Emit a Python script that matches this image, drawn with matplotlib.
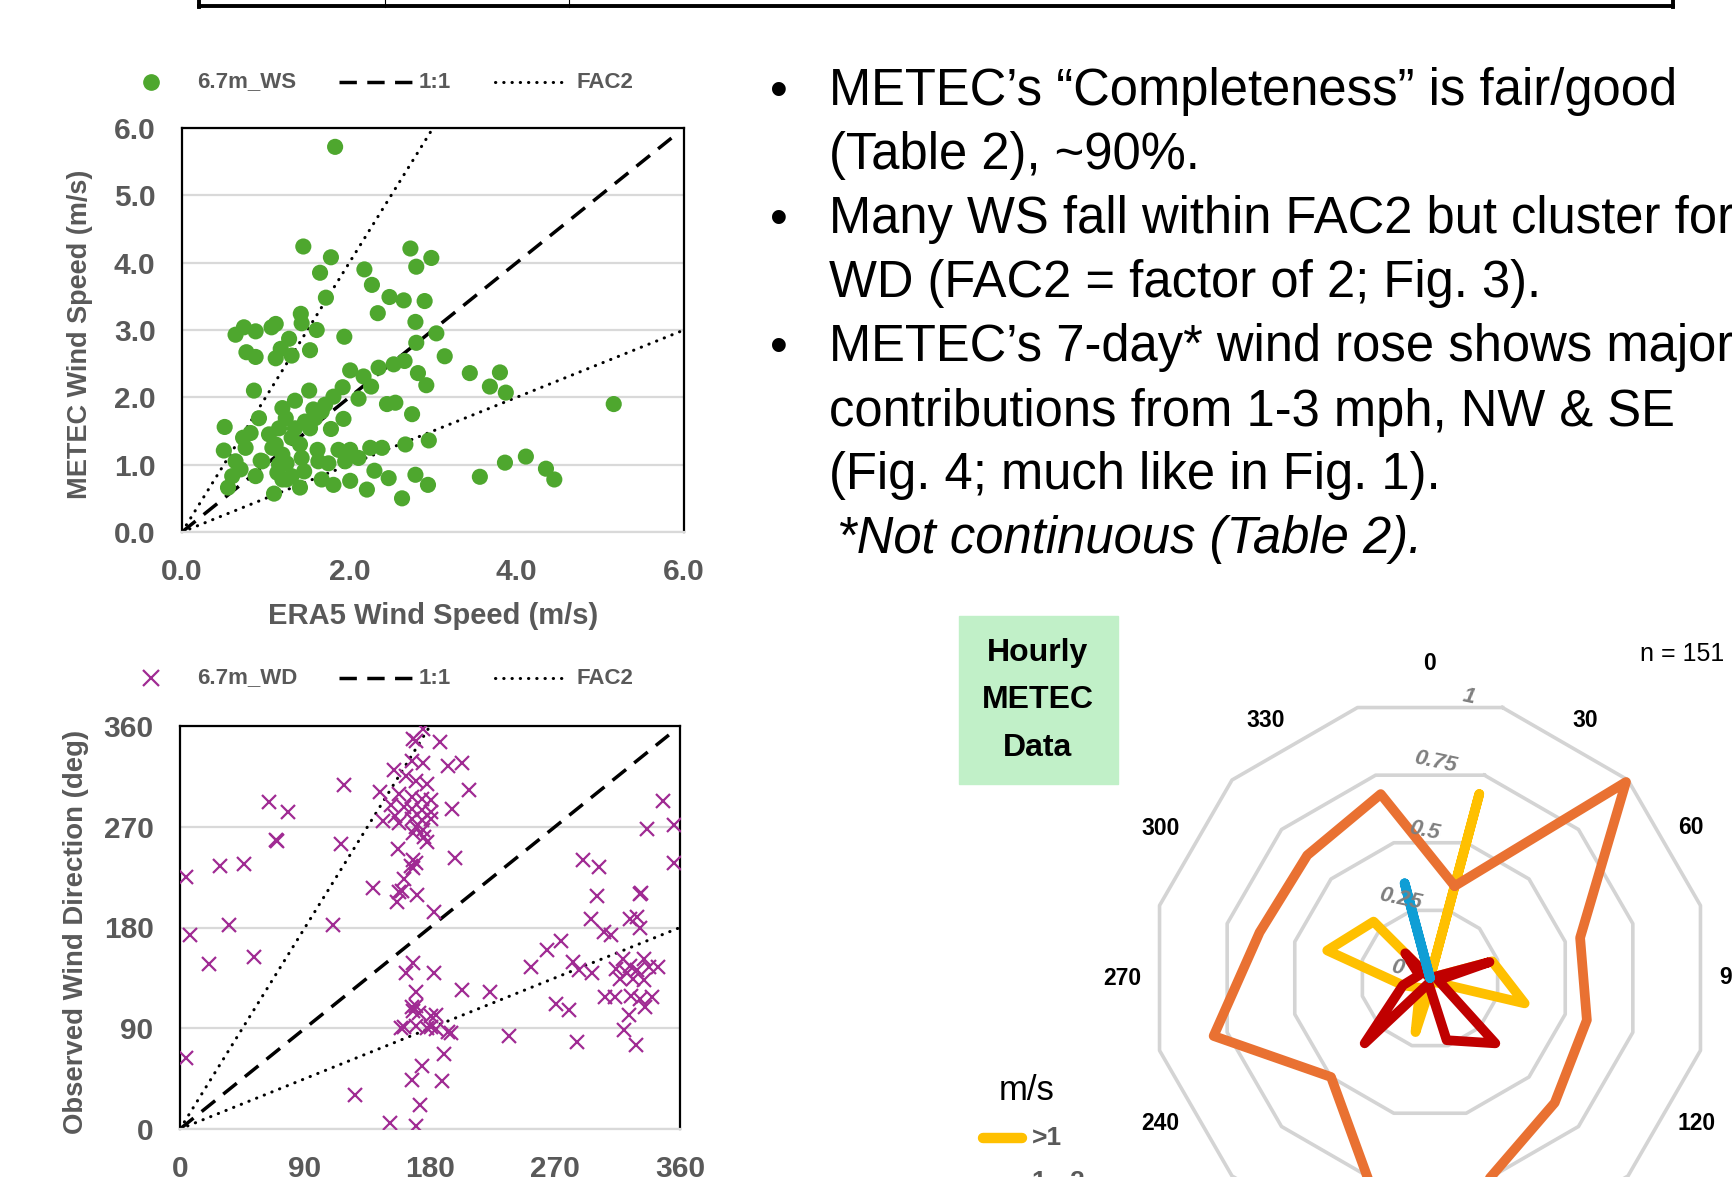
import matplotlib
matplotlib.use('Agg')
import matplotlib.pyplot as plt
import numpy as np
from matplotlib.lines import Line2D
from matplotlib.patches import Rectangle

plt.rcParams['font.family'] = ['Liberation Sans', 'DejaVu Sans']

W, H = 1733, 1177

# ---- wind speed scatter (ERA5 vs METEC, m/s) ----
era5_ws = [1.83, 1.45, 1.78, 1.65, 1.72, 1.42, 1.43, 1.61, 1.28, 1.53, 1.18, 1.12, 1.31,
           0.64, 0.74, 0.88, 1.07, 1.12, 0.77, 0.88, 1.94, 0.86, 1.52, 0.51, 0.50, 0.73,
           0.92, 0.76, 0.64, 0.60, 0.55, 0.88, 0.94, 1.10, 1.08, 1.16, 1.20, 1.35, 1.24,
           1.31, 1.41, 1.16, 1.25, 1.25, 1.41, 1.46, 1.53, 1.57, 1.71, 1.81, 1.78, 1.93,
           1.92, 1.62, 1.63, 1.67, 1.81, 2.01, 1.87, 2.01, 2.11, 2.25, 2.39, 2.30, 2.21,
           2.47, 2.01, 2.17, 2.26, 2.35, 2.53, 2.66, 2.11, 2.45, 2.55, 2.75, 2.67, 2.79,
           2.94, 2.63, 2.95, 2.82, 2.92, 2.80, 2.79, 2.90, 2.18, 2.27, 2.34, 2.48, 2.65,
           2.73, 2.80, 2.98, 1.04, 1.12, 1.20, 1.35, 1.47, 1.59, 1.67, 0.70, 0.82, 0.96,
           1.75, 1.95, 1.43, 1.20, 1.31, 1.14, 3.04, 3.14, 3.44, 3.80, 3.68, 3.87, 5.16,
           3.56, 3.86, 4.11, 4.35, 4.45]
metec_ws = [5.72, 4.24, 4.08, 3.85, 3.48, 3.24, 3.10, 3.00, 2.87, 2.70, 2.72, 2.58, 2.62,
            2.93, 3.04, 2.98, 3.04, 3.09, 2.67, 2.60, 2.90, 2.10, 2.10, 1.56, 1.21, 1.40,
            1.69, 1.25, 1.05, 0.83, 0.66, 0.83, 1.06, 0.57, 1.25, 1.54, 1.84, 1.95, 1.69,
            1.40, 1.30, 1.00, 1.02, 0.78, 0.66, 0.90, 1.54, 1.82, 1.89, 2.01, 1.53, 1.68,
            2.15, 1.22, 1.05, 0.78, 0.70, 0.76, 1.22, 1.22, 1.10, 1.25, 1.25, 0.91, 0.63,
            0.80, 2.40, 2.31, 2.16, 2.44, 2.49, 2.54, 1.98, 1.90, 1.92, 1.75, 1.30, 0.85,
            0.70, 0.50, 1.36, 2.36, 2.18, 2.81, 3.12, 3.43, 3.90, 3.67, 3.25, 3.49, 3.44,
            4.21, 3.94, 4.07, 1.45, 1.30, 1.15, 1.54, 1.64, 1.69, 1.79, 0.93, 1.47, 1.05,
            1.02, 1.05, 1.10, 0.78, 0.83, 0.88, 2.95, 2.61, 2.36, 2.37, 2.16, 2.07, 1.90,
            0.82, 1.03, 1.12, 0.94, 0.78]

# ---- wind direction scatter (ERA5 vs observed, deg) ----
era5_wd = [4, 7, 4, 21, 29, 46, 35, 53, 64, 78, 69, 70, 118, 116, 110, 139, 126,
           144, 146, 157, 154, 168, 175, 170, 187, 167, 175, 163, 170, 178, 158, 167,
           174, 181, 152, 161, 167, 174, 181, 155, 167, 174, 181, 158, 170, 175, 168,
           176, 178, 196, 193, 203, 208, 198, 170, 168, 161, 158, 156, 171, 183, 160,
           166, 168,
           151, 170, 173, 167, 174, 161, 168, 163, 168, 170, 183, 170, 167, 172, 181,
           159, 170, 178, 184, 195, 190, 189, 203, 223, 237, 184, 181, 193,
           253, 264, 274, 271, 280, 286, 283, 287, 297, 290, 302, 300, 296, 305, 310,
           306, 313, 331, 332, 324, 329, 331, 319, 324, 329, 334, 338, 344, 314, 322,
           326, 334, 317, 325, 331, 340, 335, 323, 320, 328, 348, 336, 356, 356]
obs_wd = [225, 173, 63, 147, 235, 237, 182, 154, 292, 283, 258, 257, 307, 255, 182, 215, 30,
          301, 275, 250, 321, 348, 357, 347, 346, 329, 327, 315, 311, 308, 299, 297,
          295, 294, 289, 288, 286, 285, 283, 280, 277, 276, 277, 273, 270, 267, 264,
          261, 256, 286, 324, 327, 303, 242, 238, 233, 223, 212, 203, 209, 194, 213,
          235, 240,
          5, 3, 21, 44, 56, 91, 105, 139, 148, 122, 139, 110, 109, 104, 101,
          90, 92, 90, 89, 86, 67, 43, 124, 122, 83, 102, 91, 87,
          145, 160, 168, 112, 106, 78, 149, 142, 139, 240, 234, 208, 188, 176, 173,
          118, 118, 210, 211, 188, 189, 180, 152, 146, 142, 152, 145, 145, 143, 139,
          134, 133, 134, 119, 116, 118, 109, 102, 88, 75, 293, 268, 272, 238]

# ---- hourly METEC wind rose (radar, bins centred at 15, 45, ... deg) ----
rose_dirs = [15, 45, 75, 105, 135, 165, 195, 225, 255, 285, 315, 345]
rose_lt1 = [0.68, 0.0, 0.23, 0.35, 0.02, 0.02, 0.20, 0.05, 0.10, 0.38, 0.285, 0.0]
rose_1to2 = [0.34, 0.99, 0.555, 0.58, 0.63, 0.76, 0.79, 0.50, 0.80, 0.63, 0.62, 0.68]
rose_2to3 = [0.0, 0.0, 0.22, 0.03, 0.33, 0.23, 0.02, 0.33, 0.10, 0.04, 0.125, 0.0]
rose_3to4 = [0.0, 0.0, 0.0, 0.0, 0.0, 0.0, 0.0, 0.0, 0.0, 0.0, 0.0, 0.35]
rose_labels = ['>1', '1 - 2', '2 - 3', '3 - 4']
rose_colors = ['#FFC000', '#E97132', '#C00000', '#0F9ED5']
ring_values = [0.25, 0.5, 0.75, 1.0]
dir_labels = [0, 30, 60, 90, 120, 150, 180, 210, 240, 270, 300, 330]

bullets = ['METEC\u2019s \u201cCompleteness\u201d is fair/good',
           '(Table 2), ~90%.',
           'Many WS fall within FAC2 but cluster for',
           'WD (FAC2 = factor of 2; Fig. 3).',
           'METEC\u2019s 7-day* wind rose shows major',
           'contributions from 1-3 mph, NW & SE',
           '(Fig. 4; much like in Fig. 1).']
bullet_start = [True, False, True, False, True, False, False]

GREY = '#595959'


def fx(px):
    return px / W


def fy(py):
    return 1 - py / H


fig = plt.figure(figsize=(W / 100, H / 100), dpi=100)

# table edge left over at the top of the slide
fig.add_artist(Line2D([fx(199), fx(1673)], [fy(6), fy(6)], color='black', lw=2.8,
                      transform=fig.transFigure))
for xp, lw in [(199, 2.8), (385, 0.8), (569, 0.8), (1673, 2.8)]:
    fig.add_artist(Line2D([fx(xp), fx(xp)], [fy(0), fy(7)], color='black', lw=lw,
                          transform=fig.transFigure))


def style_scatter(ax):
    ax.set_axisbelow(True)
    ax.grid(axis='y', color='#D9D9D9', lw=1.6)
    ax.tick_params(length=0, pad=19, labelsize=21.5, labelcolor=GREY)
    for lab in ax.get_xticklabels() + ax.get_yticklabels():
        lab.set_fontweight('bold')
    for side in ['left', 'right', 'top']:
        ax.spines[side].set_color('black')
        ax.spines[side].set_linewidth(1.6)
    ax.spines['bottom'].set_color('#D9D9D9')
    ax.spines['bottom'].set_linewidth(1.6)


def draw_legend(ypx, marker_kw, label):
    fig.add_artist(Line2D([fx(151)], [fy(ypx)], transform=fig.transFigure, **marker_kw))
    fig.text(fx(197), fy(ypx), label, ha='left', va='center', fontsize=16,
             fontweight='bold', color=GREY)
    fig.add_artist(Line2D([fx(339), fx(414)], [fy(ypx), fy(ypx)], color='black', lw=2.5,
                          linestyle=(0, (5, 3)), transform=fig.transFigure))
    fig.text(fx(419), fy(ypx), '1:1', ha='left', va='center', fontsize=16,
             fontweight='bold', color=GREY)
    fig.add_artist(Line2D([fx(495), fx(567)], [fy(ypx), fy(ypx)], color='black', lw=2.2,
                          linestyle=(0, (0.1, 2.6)), dash_capstyle='round',
                          transform=fig.transFigure))
    fig.text(fx(576), fy(ypx), 'FAC2', ha='left', va='center', fontsize=16,
             fontweight='bold', color=GREY)


# ---- top: wind speed ----
ax1 = fig.add_axes([fx(182), fy(532), 502 / W, 404 / H])
ax1.scatter(era5_ws, metec_ws, s=135, color='#4EA72E', edgecolors='none', zorder=3)
ax1.plot([0, 5.85], [0, 5.85], color='black', lw=2.5, linestyle=(0, (5, 3)), zorder=2)
ax1.plot([0, 3], [0, 6], color='black', lw=2.2, linestyle=(0, (0.1, 2.6)),
         dash_capstyle='round', zorder=2)
ax1.plot([0, 6], [0, 3], color='black', lw=2.2, linestyle=(0, (0.1, 2.6)),
         dash_capstyle='round', zorder=2)
ax1.set_xlim(0, 6)
ax1.set_ylim(0, 6)
ax1.set_xticks([0, 2, 4, 6])
ax1.set_xticklabels(['0.0', '2.0', '4.0', '6.0'])
ax1.set_yticks([0, 1, 2, 3, 4, 5, 6])
ax1.set_yticklabels(['%.1f' % v for v in range(7)])
style_scatter(ax1)
ax1.set_xlabel('ERA5 Wind Speed (m/s)', fontsize=21, fontweight='bold', color=GREY)
ax1.xaxis.set_label_coords(0.5, -0.173)
ax1.set_ylabel('METEC Wind Speed (m/s)', fontsize=19.5, fontweight='bold', color=GREY)
ax1.yaxis.set_label_coords(-0.177, 0.49)
draw_legend(82, dict(marker='o', markersize=11, color='#4EA72E', lw=0), '6.7m_WS')

# ---- bottom: wind direction ----
ax2 = fig.add_axes([fx(180), fy(1129), 500 / W, 403 / H])
ax2.plot(era5_wd, obs_wd, linestyle='none', marker='x', markersize=10, mew=1.6,
         color='#A02B93', zorder=3)
ax2.plot([0, 352], [0, 352], color='black', lw=2.5, linestyle=(0, (5, 3)), zorder=2)
ax2.plot([0, 180], [0, 360], color='black', lw=2.2, linestyle=(0, (0.1, 2.6)),
         dash_capstyle='round', zorder=2)
ax2.plot([0, 360], [0, 180], color='black', lw=2.2, linestyle=(0, (0.1, 2.6)),
         dash_capstyle='round', zorder=2)
ax2.set_xlim(0, 360)
ax2.set_ylim(0, 360)
ax2.set_xticks([0, 90, 180, 270, 360])
ax2.set_yticks([0, 90, 180, 270, 360])
style_scatter(ax2)
ax2.set_ylabel('Observed Wind Direction (deg)', fontsize=19.8, fontweight='bold',
               color=GREY)
ax2.yaxis.set_label_coords(-0.182, 0.49)
draw_legend(678, dict(marker='x', markersize=11, mew=1.6, color='#A02B93', lw=0),
            '6.7m_WD')

# ---- bullet text ----
for i, line in enumerate(bullets):
    ypx = 92 + 64 * i
    if bullet_start[i]:
        fig.text(fx(779), fy(ypx), '\u2022', ha='center', va='center', fontsize=36.5)
    fig.text(fx(829), fy(ypx), line, ha='left', va='center', fontsize=36.5)
fig.text(fx(837), fy(92 + 64 * 7), '*Not continuous (Table 2).', ha='left', va='center',
         fontsize=36.5, style='italic')

# ---- green label box ----
fig.add_artist(Rectangle((fx(959), fy(784)), 159 / W, 168 / H, color='#C1F0C8',
                         transform=fig.transFigure, zorder=0))
for txt, ypx in zip(['Hourly', 'METEC', 'Data'], [653, 700, 748]):
    fig.text(fx(1038), fy(ypx), txt, ha='center', va='center', fontsize=23,
             fontweight='bold')

# ---- wind rose ----
R = 280
cx, cy = 1430, 978
ax3 = fig.add_axes([fx(cx - R), fy(cy + R), 2 * R / W, 2 * R / H], projection='polar')
ax3.set_theta_zero_location('N')
ax3.set_theta_direction(-1)
ax3.set_ylim(0, 1)
ax3.axis('off')

th = np.deg2rad(rose_dirs + [rose_dirs[0]])
for rv in ring_values:
    ax3.plot(th, [rv] * len(th), color='#D4D4D4', lw=2.6, clip_on=False, zorder=1)

for vals, col in zip([rose_lt1, rose_1to2, rose_2to3, rose_3to4], rose_colors):
    ax3.plot(th, vals + [vals[0]], color=col, lw=7, solid_joinstyle='round',
             solid_capstyle='round', clip_on=False, zorder=3)

# label placement (angle, radius) around the rose
dir_label_pos = [(0, 1.125), (31, 1.073), (60.1, 1.075), (90, 1.08), (118.6, 1.084),
                 (150, 1.09), (180, 1.1), (210, 1.09), (241.7, 1.093), (270, 1.1),
                 (299.1, 1.10), (327.4, 1.09)]
for d, (ang, rr) in zip(dir_labels, dir_label_pos):
    ax3.text(np.deg2rad(ang), rr, str(d), ha='center', va='center', fontsize=16.5,
             fontweight='bold', clip_on=False)

ring_pos = [(0.0, -72.8, 0.121), (0.25, -20.6, 0.302), (0.5, -2.1, 0.525),
            (0.75, 1.5, 0.772), (1.0, 7.8, 1.015)]
for val, ang, rr in ring_pos:
    ax3.text(np.deg2rad(ang), rr, ('%g' % val), ha='center', va='center', fontsize=16,
             style='italic', fontweight='bold', color='#7F7F7F', rotation=-12, zorder=4)

fig.text(fx(1724), fy(654), 'n = 151', ha='right', va='center', fontsize=18)

# rose legend
fig.text(fx(1027), fy(1091), 'm/s', ha='center', va='center', fontsize=25)
for k, (lab, col) in enumerate(zip(rose_labels, rose_colors)):
    ypx = 1138 + 44 * k
    fig.add_artist(Line2D([fx(983), fx(1022)], [fy(ypx), fy(ypx)], color=col, lw=7.5,
                          solid_capstyle='round', transform=fig.transFigure))
    fig.text(fx(1032), fy(ypx), lab, ha='left', va='center', fontsize=19,
             fontweight='bold', color=GREY)

fig.savefig('out.png', dpi=100)
